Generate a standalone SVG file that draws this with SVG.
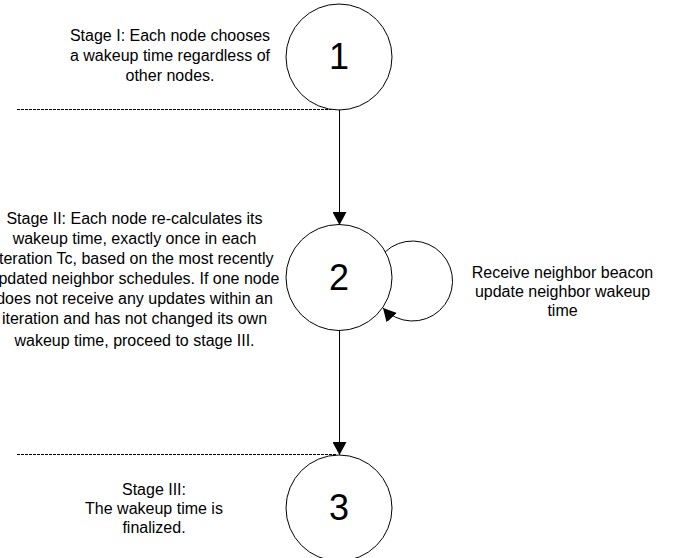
<svg xmlns="http://www.w3.org/2000/svg" width="683" height="558" viewBox="0 0 683 558">
<style>
text{font-family:"Liberation Sans",Arial,sans-serif;fill:#000}
.lbl{font-size:16px;text-anchor:middle}
.num{font-size:36px;text-anchor:middle}
.node{fill:#fff;stroke:#000;stroke-width:1}
.edge{fill:none;stroke:#000;stroke-width:1}
.dash{fill:none;stroke:#000;stroke-width:1;stroke-dasharray:3 1}
</style>
<defs>
<marker id="arr" markerUnits="userSpaceOnUse" markerWidth="14" markerHeight="14" refX="13" refY="7" orient="auto" viewBox="0 0 14 14">
<path d="M0,0 L13,7 L0,14 z" fill="#000"/>
</marker>
</defs>
<g id="dividers">
<line class="dash" x1="17" y1="109.5" x2="336" y2="109.5"/>
<line class="dash" x1="17" y1="454.5" x2="336" y2="454.5"/>
</g>
<g id="connectors">
<line class="edge" x1="339.5" y1="110" x2="339.5" y2="225" marker-end="url(#arr)"/>
<line class="edge" x1="339.5" y1="330" x2="339.5" y2="455" marker-end="url(#arr)"/>
<path class="edge" d="M385,252 A40,40 0 1 1 383,308" marker-end="url(#arr)"/>
</g>
<g id="node1">
<circle class="node" cx="339" cy="57" r="53"/>
<text class="num" x="339" y="69">1</text>
</g>
<g id="node2">
<circle class="node" cx="339" cy="277.5" r="53"/>
<text class="num" x="339" y="290">2</text>
</g>
<g id="node3">
<circle class="node" cx="339" cy="508" r="53"/>
<text class="num" x="339" y="520">3</text>
</g>
<g id="label-stage1">
<text class="lbl" x="170" y="41">Stage I: Each node chooses</text>
<text class="lbl" x="170" y="61">a wakeup time regardless of</text>
<text class="lbl" x="170" y="81">other nodes.</text>
</g>
<g id="label-stage2">
<text class="lbl" x="134.5" y="224">Stage II: Each node re-calculates its</text>
<text class="lbl" x="134.5" y="244">wakeup time, exactly once in each</text>
<text class="lbl" x="134.5" y="264">iteration Tc, based on the most recently</text>
<text class="lbl" x="134.5" y="284">updated neighbor schedules. If one node</text>
<text class="lbl" x="134.5" y="304">does not receive any updates within an</text>
<text class="lbl" x="134.5" y="324">iteration and has not changed its own</text>
<text class="lbl" x="134.5" y="346">wakeup time, proceed to stage III.</text>
</g>
<g id="label-loop">
<text class="lbl" x="562.5" y="278">Receive neighbor beacon</text>
<text class="lbl" x="562.5" y="297">update neighbor wakeup</text>
<text class="lbl" x="562.5" y="316">time</text>
</g>
<g id="label-stage3">
<text class="lbl" x="154" y="495">Stage III:</text>
<text class="lbl" x="154" y="514">The wakeup time is</text>
<text class="lbl" x="154" y="533">finalized.</text>
</g>
</svg>
